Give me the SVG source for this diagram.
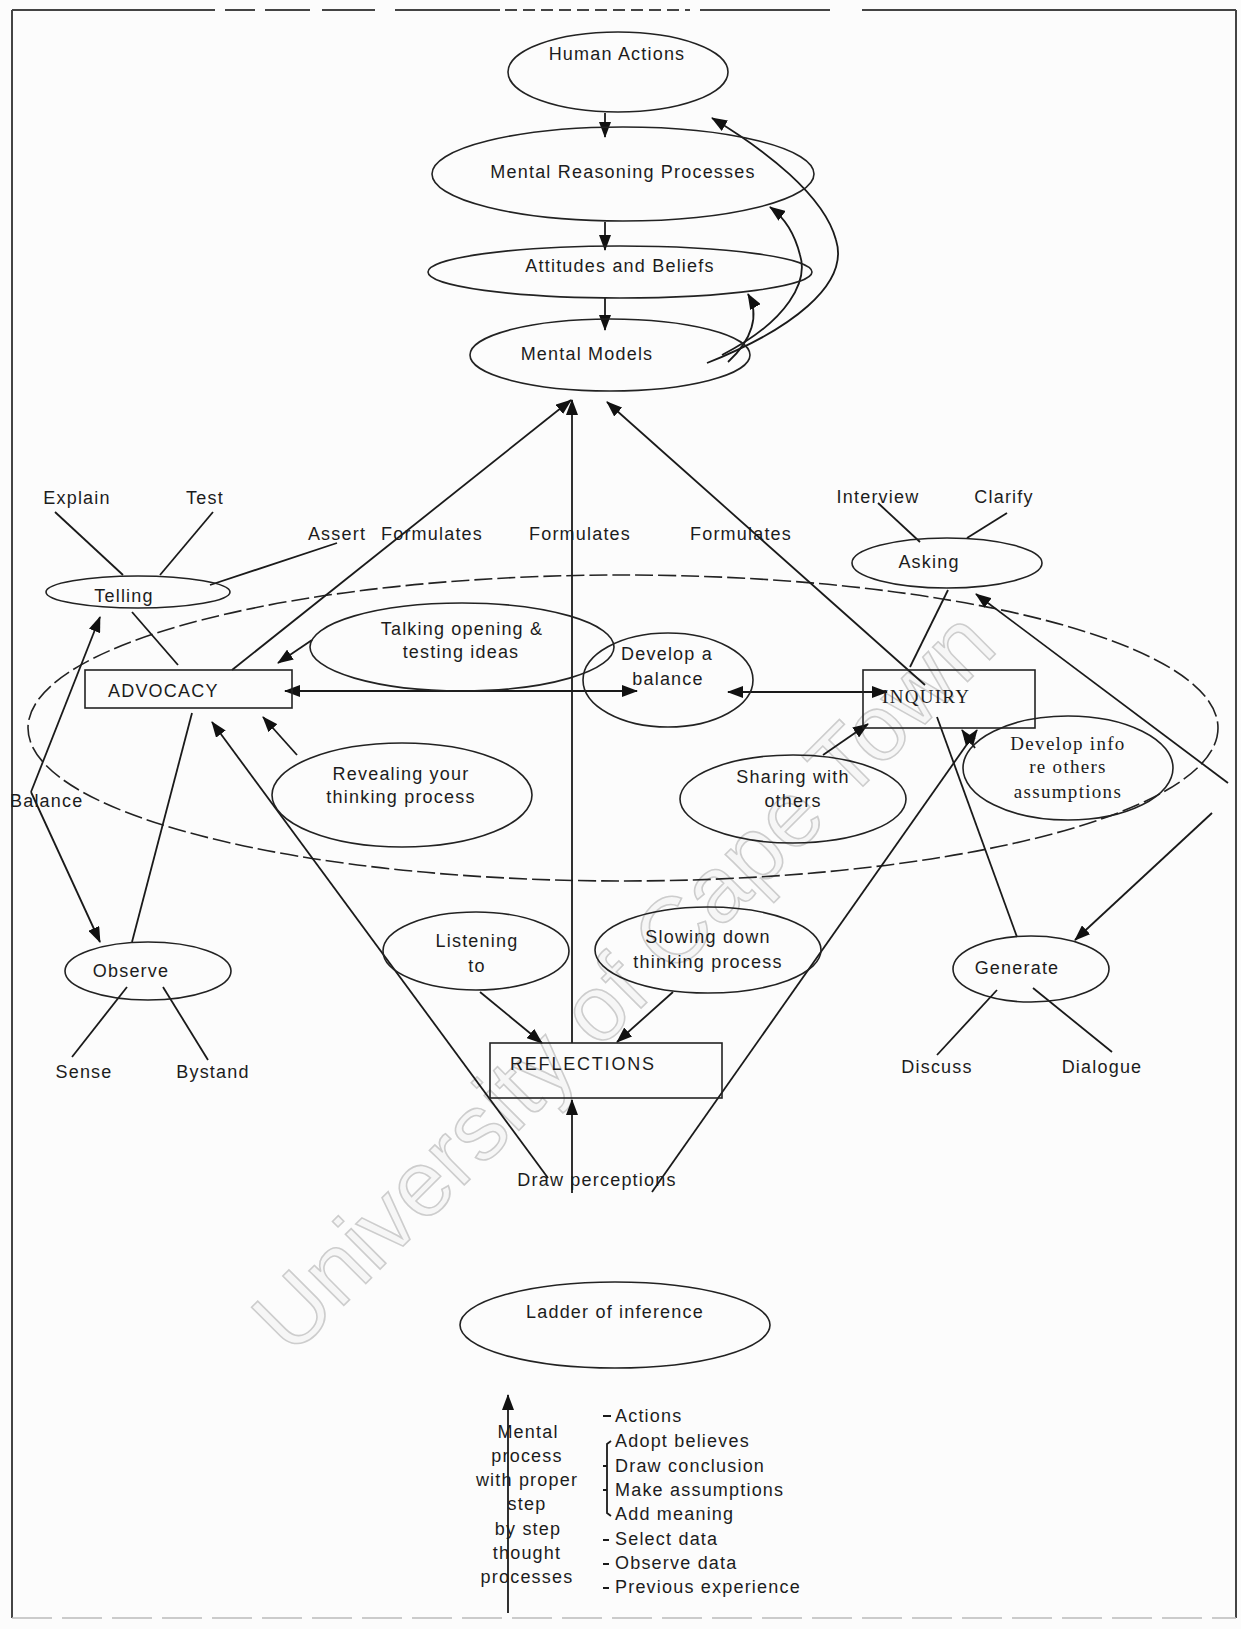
<svg xmlns="http://www.w3.org/2000/svg" width="1241" height="1629" viewBox="0 0 1241 1629">
  <style>
    .t { font-family: "Liberation Sans", Arial, sans-serif; font-size: 18px; letter-spacing: 1.2px; fill: #1c1c1c; text-anchor: middle; }
    .ts { font-family: "Liberation Serif", "Times New Roman", serif; font-size: 19px; letter-spacing: 1.3px; fill: #1c1c1c; text-anchor: middle; }
    .tl { text-anchor: start; }
    .n { fill: none; stroke: #222; stroke-width: 1.6; }
    .big { fill: none; stroke: #222; stroke-width: 1.6; stroke-dasharray: 18 5; }
    .c { fill: none; stroke: #1a1a1a; stroke-width: 1.8; }
    .a { marker-end: url(#ah); }
    .b { marker-start: url(#ah); marker-end: url(#ah); }
    .frame { fill: none; stroke: #444; stroke-width: 2; }
    .wm { font-family: "Liberation Sans", Arial, sans-serif; font-size: 93px; fill: #f6f6f6; stroke: #cdcdcd; stroke-width: 1.6; text-anchor: middle; dominant-baseline: central; }
  </style>
  <defs>
    <marker id="ah" viewBox="0 0 16 12" refX="15" refY="6" markerWidth="16" markerHeight="12" markerUnits="userSpaceOnUse" orient="auto-start-reverse">
      <path d="M0,0 L16,6 L0,12 z" fill="#111"/>
    </marker>
  </defs>

  <rect width="1241" height="1629" fill="#fcfcfc"/>

  <!-- watermark -->
  <text class="wm" transform="translate(623,981) rotate(-45)">University of Cape Town</text>

  <!-- page frame -->
  <g id="frame">
    <line class="frame" x1="12" y1="10" x2="12" y2="1618"/>
    <line class="frame" x1="1236" y1="10" x2="1236" y2="1618"/>
    <line class="frame" x1="12" y1="10" x2="215" y2="10"/>
    <path class="frame" d="M225 10 H255 M265 10 H310 M322 10 H375 M395 10 H500" stroke-width="1.5"/>
    <path class="frame" d="M505 10 H690" stroke-width="1" stroke-dasharray="12 6"/>
    <line class="frame" x1="700" y1="10" x2="830" y2="10"/>
    <line class="frame" x1="862" y1="10" x2="1236" y2="10"/>
    <line x1="12" y1="1618" x2="1236" y2="1618" stroke="#bbb" stroke-width="1.5" stroke-dasharray="40 10"/>
  </g>

  <!-- outer balance region -->
  <ellipse id="region" class="big" cx="623" cy="728" rx="595" ry="153"/>

  <!-- connectors -->
  <g id="connectors">
    <path class="c a" d="M605 113 L605 137"/>
    <path class="c a" d="M605 222 L605 250"/>
    <path class="c a" d="M605 298 L605 330"/>
    <path class="c a" d="M707 363 C790 330 850 285 836 240 C824 195 765 150 712 118"/>
    <path class="c a" d="M722 355 C790 320 808 280 800 255 C795 235 785 218 770 207"/>
    <path class="c a" d="M728 362 C752 340 760 315 748 294"/>

    <path class="c a" d="M232 670 L571 400"/>
    <path class="c a" d="M572 1043 L572 400"/>
    <path class="c a" d="M925 685 L607 402"/>

    <path class="c" d="M55 512 L123 575"/>
    <path class="c" d="M213 512 L160 575"/>
    <path class="c" d="M337 543 L210 585"/>
    <path class="c" d="M178 665 L132 612"/>
    <path class="c a" d="M31 792 L100 617"/>
    <path class="c a" d="M31 792 L100 942"/>
    <path class="c" d="M192 713 L132 942"/>
    <path class="c" d="M72 1057 L127 987"/>
    <path class="c" d="M208 1060 L163 987"/>

    <path class="c a" d="M312 640 L278 663"/>
    <path class="c a" d="M297 755 L263 717"/>
    <path class="c a" d="M548 1178 L212 722"/>
    <path class="c a" d="M652 1192 L977 730"/>
    <path class="c b" d="M285 691 L637 691"/>
    <path class="c b" d="M728 692 L887 692"/>
    <path class="c a" d="M823 755 L868 724"/>
    <path class="c a" d="M975 748 L962 730"/>

    <path class="c" d="M948 590 L910 667"/>
    <path class="c" d="M878 503 L920 542"/>
    <path class="c" d="M1007 513 L967 538"/>
    <path class="c a" d="M1228 783 L976 594"/>
    <path class="c a" d="M1212 813 L1075 940"/>
    <path class="c" d="M937 717 L1017 937"/>
    <path class="c" d="M937 1055 L997 990"/>
    <path class="c" d="M1112 1052 L1033 988"/>

    <path class="c a" d="M480 992 L542 1043"/>
    <path class="c a" d="M673 992 L617 1042"/>
    <path class="c a" d="M572 1193 L572 1100"/>

    <path class="c a" d="M508 1613 L508 1395"/>
  </g>

  <!-- upper chain -->
  <g id="human-actions">
    <ellipse class="n" cx="618" cy="72" rx="110" ry="40"/>
    <text class="t" x="617" y="60">Human Actions</text>
  </g>
  <g id="mental-reasoning">
    <ellipse class="n" cx="623" cy="174" rx="191" ry="47"/>
    <text class="t" x="623" y="178">Mental Reasoning Processes</text>
  </g>
  <g id="attitudes-beliefs">
    <ellipse class="n" cx="620" cy="272" rx="192" ry="26"/>
    <text class="t" x="620" y="272">Attitudes and Beliefs</text>
  </g>
  <g id="mental-models">
    <ellipse class="n" cx="610" cy="355" rx="140" ry="36"/>
    <text class="t" x="587" y="360">Mental Models</text>
  </g>

  <!-- labels along the upward arrows -->
  <g id="formulates-labels">
    <text class="t" x="337" y="540">Assert</text>
    <text class="t" x="432" y="540">Formulates</text>
    <text class="t" x="580" y="540">Formulates</text>
    <text class="t" x="741" y="540">Formulates</text>
  </g>

  <!-- advocacy side -->
  <g id="telling">
    <ellipse class="n" cx="138" cy="592" rx="92" ry="16"/>
    <text class="t" x="124" y="602">Telling</text>
    <text class="t" x="77" y="504">Explain</text>
    <text class="t" x="205" y="504">Test</text>
  </g>
  <g id="advocacy">
    <rect class="n" x="85" y="670" width="207" height="38"/>
    <text class="t tl" x="108" y="697">ADVOCACY</text>
  </g>
  <g id="balance-label">
    <text class="t tl" x="10" y="807">Balance</text>
  </g>
  <g id="observe">
    <ellipse class="n" cx="148" cy="971" rx="83" ry="29"/>
    <text class="t" x="131" y="977">Observe</text>
    <text class="t" x="84" y="1078">Sense</text>
    <text class="t" x="213" y="1078">Bystand</text>
  </g>
  <g id="talking">
    <ellipse class="n" cx="462" cy="647" rx="152" ry="44"/>
    <text class="t" x="462" y="635">Talking opening &amp;</text>
    <text class="t" x="461" y="658">testing ideas</text>
  </g>
  <g id="revealing">
    <ellipse class="n" cx="402" cy="795" rx="130" ry="52"/>
    <text class="t" x="401" y="780">Revealing your</text>
    <text class="t" x="401" y="803">thinking process</text>
  </g>

  <!-- centre -->
  <g id="develop-balance">
    <ellipse class="n" cx="668" cy="680" rx="85" ry="47"/>
    <text class="t" x="667" y="660">Develop a</text>
    <text class="t" x="668" y="685">balance</text>
  </g>

  <!-- inquiry side -->
  <g id="asking">
    <ellipse class="n" cx="947" cy="563" rx="95" ry="25"/>
    <text class="t" x="929" y="568">Asking</text>
    <text class="t" x="878" y="503">Interview</text>
    <text class="t" x="1004" y="503">Clarify</text>
  </g>
  <g id="inquiry">
    <rect class="n" x="863" y="670" width="172" height="58"/>
    <text class="ts tl" x="882" y="703">INQUIRY</text>
  </g>
  <g id="sharing">
    <ellipse class="n" cx="793" cy="799" rx="113" ry="44"/>
    <text class="t" x="793" y="783">Sharing with</text>
    <text class="t" x="793" y="807">others</text>
  </g>
  <g id="develop-info">
    <ellipse class="n" cx="1068" cy="768" rx="105" ry="52"/>
    <text class="ts" x="1068" y="750">Develop info</text>
    <text class="ts" x="1068" y="773">re others</text>
    <text class="ts" x="1068" y="798">assumptions</text>
  </g>
  <g id="generate">
    <ellipse class="n" cx="1031" cy="969" rx="78" ry="33"/>
    <text class="t" x="1017" y="974">Generate</text>
    <text class="t" x="937" y="1073">Discuss</text>
    <text class="t" x="1102" y="1073">Dialogue</text>
  </g>

  <!-- reflection -->
  <g id="listening">
    <ellipse class="n" cx="476" cy="951" rx="93" ry="39"/>
    <text class="t" x="477" y="947">Listening</text>
    <text class="t" x="477" y="972">to</text>
  </g>
  <g id="slowing">
    <ellipse class="n" cx="708" cy="950" rx="113" ry="43"/>
    <text class="t" x="708" y="943">Slowing down</text>
    <text class="t" x="708" y="968">thinking  process</text>
  </g>
  <g id="reflections">
    <rect class="n" x="490" y="1043" width="232" height="55"/>
    <text class="t tl" x="510" y="1070" style="letter-spacing:1.8px">REFLECTIONS</text>
  </g>
  <g id="draw-perceptions">
    <text class="t" x="597" y="1186">Draw perceptions</text>
  </g>

  <!-- ladder legend -->
  <g id="ladder">
    <ellipse class="n" cx="615" cy="1325" rx="155" ry="43"/>
    <text class="t" x="615" y="1318">Ladder of inference</text>
  </g>
  <g id="ladder-steps">
    <text class="t" x="528" y="1438">Mental</text>
    <text class="t" x="527" y="1462">process</text>
    <text class="t" x="527" y="1486">with proper</text>
    <text class="t" x="527" y="1510">step</text>
    <text class="t" x="528" y="1535">by step</text>
    <text class="t" x="527" y="1559">thought</text>
    <text class="t" x="527" y="1583">processes</text>

    <text class="t tl" x="615" y="1422">Actions</text>
    <text class="t tl" x="615" y="1447">Adopt believes</text>
    <text class="t tl" x="615" y="1472">Draw conclusion</text>
    <text class="t tl" x="615" y="1496">Make assumptions</text>
    <text class="t tl" x="615" y="1520">Add meaning</text>
    <text class="t tl" x="615" y="1545">Select data</text>
    <text class="t tl" x="615" y="1569">Observe data</text>
    <text class="t tl" x="615" y="1593">Previous experience</text>

    <path class="c" stroke-width="1.3" d="M603 1416 H611 M611 1441 L607 1444 L607 1513 L611 1516 M603 1466 H607 M603 1490 H607 M603 1540 H609 M603 1564 H609 M603 1588 H609"/>
  </g>
</svg>
